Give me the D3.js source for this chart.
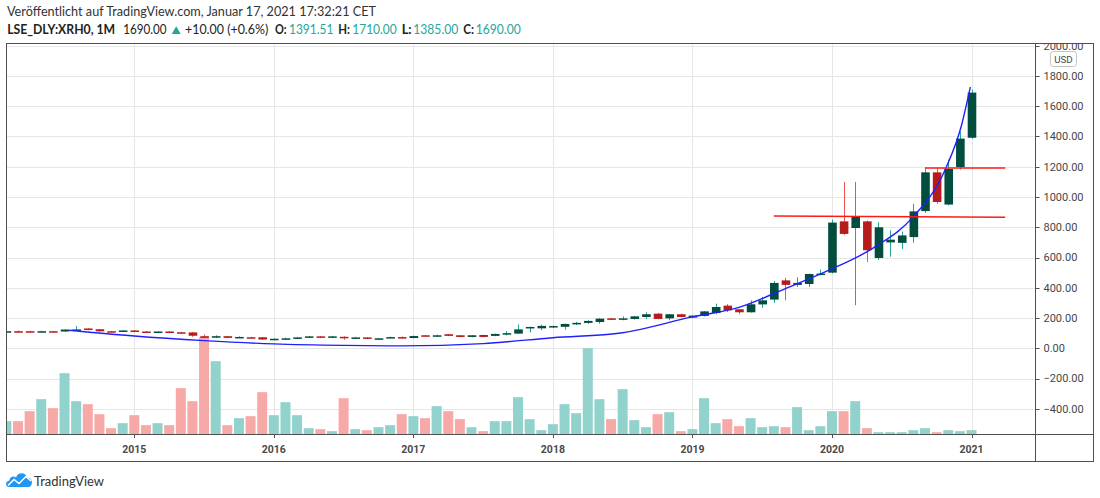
<!DOCTYPE html>
<html><head><meta charset="utf-8">
<script src="https://cdn.jsdelivr.net/npm/d3@7"></script>
<style>html,body{margin:0;padding:0;background:#fff;}svg{display:block;}</style>
</head><body>
<svg id="chart" width="1100" height="498"></svg>
<script>
// ---------- DATA ----------
const months = [
 "2014-02","2014-03","2014-04","2014-05","2014-06","2014-07","2014-08","2014-09","2014-10","2014-11","2014-12",
 "2015-01","2015-02","2015-03","2015-04","2015-05","2015-06","2015-07","2015-08","2015-09","2015-10","2015-11","2015-12",
 "2016-01","2016-02","2016-03","2016-04","2016-05","2016-06","2016-07","2016-08","2016-09","2016-10","2016-11","2016-12",
 "2017-01","2017-02","2017-03","2017-04","2017-05","2017-06","2017-07","2017-08","2017-09","2017-10","2017-11","2017-12",
 "2018-01","2018-02","2018-03","2018-04","2018-05","2018-06","2018-07","2018-08","2018-09","2018-10","2018-11","2018-12",
 "2019-01","2019-02","2019-03","2019-04","2019-05","2019-06","2019-07","2019-08","2019-09","2019-10","2019-11","2019-12",
 "2020-01","2020-02","2020-03","2020-04","2020-05","2020-06","2020-07","2020-08","2020-09","2020-10","2020-11","2020-12",
 "2021-01"];
const openV = [107,113,113,107,113,111,123,131,126,113,109,
 118,111,109,111,106,105,80,70,80,72,73,73,
 57,63,64,71,79,70,76,64,72,62,70,74,
 68,86,83,93,86,75,88,82,97,97,135,132,
 138,142,161,168,174,198,194,194,207,229,198,225,
 203,214,233,282,258,238,290,322,449,419,425,485,
 500,839,795,839,597,700,697,735,907,1163,950,1198,
 1391.51];
const highV = [115,118,115,115,116,126,147,133,128,115,120,
 120,114,113,114,109,107,92,86,82,79,76,75,
 66,70,75,82,81,82,79,75,74,68,77,78,
 84,88,90,95,88,88,90,97,114,158,143,156,
 150,163,175,185,199,201,211,213,238,233,227,229,
 218,246,295,291,260,317,340,445,465,470,493,520,
 850,1099,1099,845,833,780,772,955,1194,1194,1247,1434,
 1710];
const lowV = [105,110,106,105,109,108,120,119,110,108,108,
 106,107,107,107,100,76,66,67,67,70,68,56,
 55,60,62,69,69,68,57,62,60,60,68,64,
 66,80,78,80,73,73,73,80,86,95,105,119,
 134,123,155,160,162,190,185,190,194,192,185,205,
 200,210,225,240,225,236,267,300,317,405,405,483,
 495,750,285,571,583,605,656,697,895,955,945,1181,
 1385];
const closeV = [113,111,107,113,111,124,125,121,112,110,118,
 108,109,111,109,103,83,69,80,69,75,70,58,
 63,66,72,79,71,79,69,72,62,66,74,70,
 81,82,86,82,75,86,75,95,100,125,141,148,
 147,161,168,181,196,194,198,211,225,194,225,207,
 216,244,273,251,238,291,317,432,419,432,491,494,
 831,756,872,648,800,718,746,905,1163,967,1185,1386,
 1690];
const volumeV = [40,40,70,106,79,184,100,91,61,19,34,
 58,28,34,28,139,100,292,220,28,49,55,127,
 58,97,58,19,16,10,109,16,13,22,28,61,
 55,49,85,70,46,22,10,40,40,112,46,13,
 31,91,64,259,106,46,136,43,22,61,67,10,
 16,109,34,46,25,49,22,25,22,82,13,25,
 70,70,100,19,7,7,7,13,19,7,13,10,
 13];
// blue trend curve (month position, price)
const trendPos = [6.4,12,18,24,30,35,42,48,54,60,64,68,71.6,75.7,79,81.8,83.1,83.9];
const trendVal = [119,81,51,29,19,16,31,70,103,208,270,395,511,670,870,1192,1463,1727];
// red horizontal levels: [startPos, startPrice, endPos, endPrice]
const levelLow  = [67.0, 874, 86.9, 866];
const levelHigh = [80.0, 1191, 86.9, 1191];
const priceTicks = [-400,-200,0,200,400,600,800,1000,1200,1400,1600,1800,2000];
const yearLabels = ["2015","2016","2017","2018","2019","2020","2021"];
const headerLine1 = "Veröffentlicht auf TradingView.com, Januar 17, 2021 17:32:21 CET";
const symbolLabel = "LSE_DLY:XRH0, 1M";
const changeLabel = "+10.00 (+0.6%)";

// ---------- LAYOUT ----------
const L = 6.5, R = 1035.5, RR = 1093.5, T = 43.5, B = 434.5, BB = 461.5;
const svg = d3.select("#chart");
svg.append("rect").attr("width",1100).attr("height",498).attr("fill","#fff");

const monthPos = m => { const [y,mo] = m.split("-").map(Number); return (y-2014)*12 + (mo-1); };
const x = d3.scaleLinear().domain([12,84]).range([134.3,971.5]);
const y = d3.scaleLinear().domain([0,2000]).range([348.3,45.7]);
const yv = d3.scaleLinear().domain([0,300]).range([B,B-100]);

const defs = svg.append("defs");
defs.append("clipPath").attr("id","plot").append("rect").attr("x",L).attr("y",T).attr("width",R-L).attr("height",B-T);
defs.append("clipPath").attr("id","axis").append("rect").attr("x",R).attr("y",T).attr("width",RR-R).attr("height",B-T);

const data = months.map((m,i)=>({m, p:monthPos(m), o:openV[i], h:highV[i], l:lowV[i], c:closeV[i], v:volumeV[i]}));

// grid
const grid = svg.append("g").attr("clip-path","url(#plot)");
grid.selectAll("line.h").data(priceTicks).join("line")
  .attr("x1",L).attr("x2",R).attr("y1",d=>Math.round(y(d))+0.5).attr("y2",d=>Math.round(y(d))+0.5)
  .attr("stroke","#e6e6e6").attr("stroke-width",1);
grid.selectAll("line.v").data(yearLabels).join("line")
  .attr("x1",d=>Math.round(x(monthPos(d+"-01")))+0.5).attr("x2",d=>Math.round(x(monthPos(d+"-01")))+0.5)
  .attr("y1",T).attr("y2",B).attr("stroke","#e6e6e6").attr("stroke-width",1);

const plot = svg.append("g").attr("clip-path","url(#plot)");
// volume
const volW = 10;
plot.selectAll("rect.vol").data(data).join("rect")
  .attr("x",d=>x(d.p)-volW/2).attr("width",volW)
  .attr("y",d=>yv(d.v)).attr("height",d=>B-0.5-yv(d.v))
  .attr("fill",d=>d.c>=d.o?"#92d2cc":"#f7a9a7");

// candles
const up = d=>d.c>=d.o;
plot.selectAll("line.wick").data(data).join("line")
  .attr("x1",d=>Math.round(x(d.p))+0.5).attr("x2",d=>Math.round(x(d.p))+0.5)
  .attr("y1",d=>y(d.h)).attr("y2",d=>y(d.l))
  .attr("stroke",d=>up(d)?"#26a69a":"#ef5350").attr("stroke-width",1);
const bodyW = 8.6;
plot.selectAll("rect.body").data(data).join("rect")
  .attr("x",d=>x(d.p)-bodyW/2+0.5).attr("width",bodyW)
  .attr("y",d=>y(Math.max(d.o,d.c)))
  .attr("height",d=>Math.max(1.5, Math.abs(y(d.o)-y(d.c))))
  .attr("fill",d=>up(d)?"#014d3e":"#b71c1c");

// trend
const trend = trendPos.map((p,i)=>[p,trendVal[i]]);
plot.append("path").datum(trend)
  .attr("d", d3.line().x(d=>x(d[0])).y(d=>y(d[1])).curve(d3.curveMonotoneX))
  .attr("fill","none").attr("stroke","#2020ff").attr("stroke-width",1.4);

// level lines
[levelLow, levelHigh].forEach(a=>{
  plot.append("line").attr("x1",x(a[0])).attr("y1",y(a[1])).attr("x2",x(a[2])).attr("y2",y(a[3]))
    .attr("stroke","#ff1a1a").attr("stroke-width",1.5);
});

// frame
const fr = svg.append("g").attr("stroke","#505050").attr("stroke-width",1).attr("fill","none");
fr.append("rect").attr("x",L).attr("y",T).attr("width",RR-L).attr("height",BB-T);
fr.append("line").attr("x1",R).attr("x2",R).attr("y1",T).attr("y2",BB);
fr.append("line").attr("x1",L).attr("x2",RR).attr("y1",B).attr("y2",B);

// price axis
const ax = svg.append("g").attr("clip-path","url(#axis)");
ax.selectAll("line").data(priceTicks).join("line")
  .attr("x1",R).attr("x2",R+4).attr("y1",d=>Math.round(y(d))+0.5).attr("y2",d=>Math.round(y(d))+0.5)
  .attr("stroke","#505050");
const fmt = d3.format(".2f");
ax.selectAll("text").data(priceTicks).join("text")
  .attr("x",1043.5).attr("y",d=>y(d)+3.9)
  .attr("font-family","Roboto, sans-serif").attr("font-size",11).attr("fill","#474747")
  .text(d=>fmt(d));
// USD badge
svg.append("rect").attr("x",1050.5).attr("y",51.5).attr("width",26).attr("height",15).attr("rx",3)
  .attr("fill","#fff").attr("stroke","#c4c4c4");
svg.append("text").attr("x",1063.5).attr("y",62.5).attr("text-anchor","middle")
  .attr("font-family","Roboto, sans-serif").attr("font-size",9.8).attr("fill","#4a4a4a").text("USD");

// time axis
const tx = svg.append("g");
tx.selectAll("line").data(yearLabels).join("line")
  .attr("x1",d=>Math.round(x(monthPos(d+"-01")))+0.5).attr("x2",d=>Math.round(x(monthPos(d+"-01")))+0.5)
  .attr("y1",B).attr("y2",B+3.5).attr("stroke","#505050");
tx.selectAll("text").data(yearLabels).join("text")
  .attr("x",d=>x(monthPos(d+"-01"))).attr("y",453.2).attr("text-anchor","middle")
  .attr("font-family","Roboto, sans-serif").attr("font-weight","bold").attr("font-size",10.5).attr("fill","#4a4a4a")
  .text(d=>d);

// header
const last = data[data.length-1];
const hf = "Lato, 'Open Sans', sans-serif";
svg.append("text").attr("x",7).attr("y",15.5).attr("font-family",hf).attr("font-size",12.6).attr("fill","#333")
  .attr("textLength",369).attr("lengthAdjust","spacingAndGlyphs").text(headerLine1);
const h2 = [
  [7.2, symbolLabel, "bold", "#222", 108],
  [123.3, fmt(last.c), "normal", "#222", 43.3],
  [185, changeLabel, "normal", "#222", 83.3],
  [275, "O:", "bold", "#222", 11.7], [289, fmt(last.o), "normal", "#26a69a", 44.3],
  [338.3, "H:", "bold", "#222", 11.7], [352.3, fmt(last.h), "normal", "#26a69a", 44.4],
  [401.7, "L:", "bold", "#222", 10], [413.3, fmt(last.l), "normal", "#26a69a", 45],
  [463.3, "C:", "bold", "#222", 10.7], [475.7, fmt(last.c), "normal", "#26a69a", 45]
];
h2.forEach(s=>{
  svg.append("text").attr("x",s[0]).attr("y",34).attr("font-family",hf).attr("font-size",12.8)
    .attr("font-weight",s[2]).attr("fill",s[3]).attr("textLength",s[4]).attr("lengthAdjust","spacingAndGlyphs")
    .text(s[1]);
});
// up triangle
svg.append("path").attr("d","M171.7,34 L180.7,34 L176.2,26.3 Z").attr("fill","#26a69a");

// logo
const lg = svg.append("g");
lg.append("path").attr("fill","#2196f3")
  .attr("d","M9,487 C5,487 5,481 9.5,480.5 C9.5,476.5 14,475.5 16,477.5 C17.5,472 25.5,471.5 27,477.5 C31,477.5 33,482 31.5,484.5 C31,486 30,487 28.5,487 Z");
lg.append("polyline").attr("points","8,485.5 14,479.5 19,483.5 26,476.5 31,481").attr("fill","none")
  .attr("stroke","#fff").attr("stroke-width",1.6);
svg.append("text").attr("x",34).attr("y",485.5).attr("font-family",hf).attr("font-size",13.5).attr("fill","#333")
  .attr("textLength",70).attr("lengthAdjust","spacingAndGlyphs").text("TradingView");
</script>
</body></html>
